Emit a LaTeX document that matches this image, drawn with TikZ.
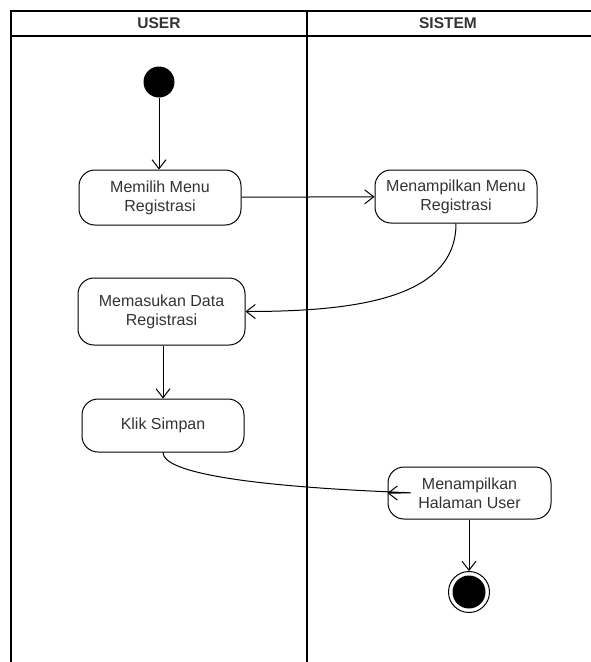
\documentclass[tikz,border=0pt]{standalone}
\usepackage{fontspec}
\setmainfont{Liberation Sans}
\usetikzlibrary{arrows.meta}
\definecolor{txt}{HTML}{333333}
\begin{document}
\begin{tikzpicture}[x=1pt,y=-1pt,
  lane/.style={line width=2pt,black},
  action/.style={draw,line width=1pt,rounded corners=16pt,align=center,
    text=txt,font=\fontsize{16pt}{19pt}\selectfont,inner sep=0pt},
  flow/.style={line width=1pt,-{Straight Barb[length=9pt,width=14pt,line width=1pt]}},
  head/.style={font=\bfseries\fontsize{15.5pt}{18pt}\selectfont,text=txt}]
\useasboundingbox[fill=white] (0,0) rectangle (590,662);

% swimlane frame
\draw[lane] (11,11) -- (600,11);
\draw[lane] (11,36) -- (600,36);
\draw[lane] (11,10) -- (11,670);
\draw[lane] (307,10) -- (307,670);
\node[head] (huser) at (159,23.5) {USER};
\node[head] (hsys) at (448,23.5) {SISTEM};

% activity nodes
\node[circle,fill=black,minimum size=31pt,inner sep=0pt] (start) at (159,82) {};
\node[action,minimum width=162pt,minimum height=55pt] (menu) at (160,197.5) {Memilih Menu\\Registrasi};
\node[action,minimum width=162pt,minimum height=53pt] (tampil) at (456,196.5) {Menampilkan Menu\\Registrasi};
\node[action,minimum width=167pt,minimum height=67pt] (data) at (161.5,311.5) {Memasukan Data\\Registrasi};
\node[action,minimum width=162pt,minimum height=53pt] (simpan) at (163,425.5) {Klik Simpan};
\node[action,minimum width=163pt,minimum height=52pt] (halaman) at (469.5,493) {Menampilkan\\Halaman User};
\node[circle,draw,line width=1pt,minimum size=41pt,inner sep=0pt] (end) at (469,592) {};
\node[circle,fill=black,minimum size=33pt,inner sep=0pt] (endin) at (end.center) {};

% control flow
\draw[flow] (start) -- (menu.north -| start);
\draw[flow] (menu) -- (tampil);
\draw[flow] (tampil.south) .. controls +(0,75) and +(110,0) .. (data.east);
\draw[flow] (data.south -| simpan) -- (simpan.north);
\draw[flow] (simpan.south) .. controls +(0,40) and +(110,0) .. (halaman.west);
\draw[flow] (halaman.south -| end) -- (end.north);
\end{tikzpicture}
\end{document}
